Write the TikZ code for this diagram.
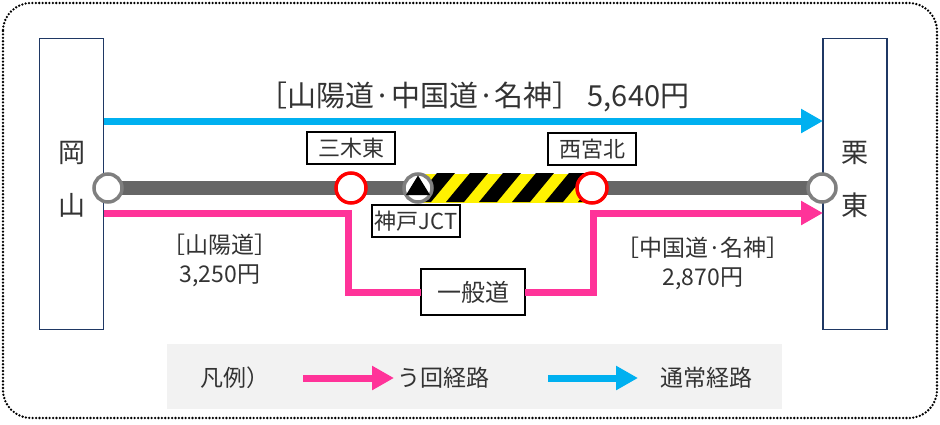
\documentclass[tikz,border=0pt]{standalone}
\usepackage{fontspec}
\setmainfont{Noto Sans CJK JP}
\usetikzlibrary{arrows.meta, positioning}

\definecolor{tsujoblue}{HTML}{00B0F0}
\definecolor{ukaipink}{HTML}{FF3399}
\definecolor{roadgray}{HTML}{666666}
\definecolor{ringgray}{HTML}{7F7F7F}
\definecolor{citynavy}{HTML}{1F3864}
\definecolor{legendgray}{HTML}{F2F2F2}

\begin{document}
\begin{tikzpicture}[x=1pt, y=-1pt,
  every node/.style={text=black!80, inner sep=0pt, outer sep=0pt},
  citybox/.style={draw=citynavy, line width=1.5pt, minimum width=64pt, minimum height=291pt},
  cityname/.style={font=\fontsize{27}{27}\selectfont},
  endring/.style={circle, draw=ringgray, line width=3.5pt, fill=white, minimum size=28pt},
  icring/.style={circle, draw=red, line width=3.5pt, fill=white, minimum size=30pt},
  namebox/.style={draw=black, line width=1.6pt, fill=white, font=\fontsize{22}{22}\selectfont},
  icname/.style={namebox, minimum width=88pt, minimum height=32pt},
  tsujoroute/.style={draw=tsujoblue, line width=7pt, -{Triangle[length=22pt, width=23pt]}},
  ukairoute/.style={draw=ukaipink, line width=7pt},
  ukaitip/.style={-{Triangle[length=22pt, width=23pt]}},
  farelabel/.style={align=center, font=\fontsize{23}{29}\selectfont},
  legendtext/.style={font=\fontsize{23}{23}\selectfont}]
  \useasboundingbox (0,0) rectangle (940,424);
  % dotted outer frame
  \draw[line width=2.6pt, dash pattern=on 0pt off 3.4pt, line cap=round, rounded corners=28pt]
    (3,3) rectangle (937,418);

  \node[citybox] (okayama) at (71.5,184) {};
  \node[citybox] (ritto) at (855,184) {};
  \node[cityname] (oka1) at (71.5,153) {岡};
  \node[cityname] (oka2) at (71.5,205) {山};
  \node[cityname] (rit1) at (855,153) {栗};
  \node[cityname] (rit2) at (855,205) {東};

  % usual route
  \coordinate (tsujoY) at (0,121);
  \draw[tsujoroute] (okayama.east |- tsujoY) -- (ritto.west |- tsujoY);
  \node[font=\fontsize{29}{29}\selectfont] (tsujoFare) at (474,97) {［山陽道·中国道·名神］ 5,640円};

  % expressway and the closed section
  \coordinate (okaP) at (108,188);
  \coordinate (mikiP) at (351,188);
  \coordinate (jctP) at (418,188);
  \coordinate (nishiP) at (592,188);
  \coordinate (ritP) at (822,188);
  \draw[roadgray, line width=14pt] (okaP) -- (ritP);
  \fill[yellow] ([yshift=14.5pt]jctP) rectangle ([yshift=-14.5pt]nishiP);
  \begin{scope}
    \clip ([yshift=14.5pt]jctP) rectangle ([yshift=-14.5pt]nishiP);
    \foreach \s in {380,413,...,600}
      \fill[black] (\s,202) -- ++(18,0) -- ++(24,-29) -- ++(-18,0) -- cycle;
  \end{scope}

  \node[endring] (okaEnd) at (okaP) {};
  \node[endring] (ritEnd) at (ritP) {};
  \node[icring] (miki) at (mikiP) {};
  \node[icring] (nishi) at (nishiP) {};
  \node[endring] (jct) at (jctP) {};
  \fill ([yshift=12.5pt]jct.center) -- ([xshift=-12pt, yshift=-7pt]jct.center)
    -- ([xshift=12pt, yshift=-7pt]jct.center) -- cycle;

  \node[icname, above=9pt of miki] (mikiName) {三木東};
  \node[icname, above=8pt of nishi] (nishiName) {西宮北};
  \node[icname, below=3pt of jct, xshift=-2pt] (jctName) {神戸JCT};

  % detour
  \coordinate (ukaiY) at (0,213);
  \coordinate (ukaiTurnL) at (348,213);
  \coordinate (ukaiTurnR) at (593,213);
  \node[namebox, minimum width=104pt, minimum height=46pt, font=\fontsize{24}{24}\selectfont]
    (ippan) at (473,292) {一般道};
  \draw[ukairoute] (okayama.east |- ukaiY) -- (ukaiTurnL) |- (ippan.west);
  \draw[ukairoute, ukaitip] (ippan.east) -| (ukaiTurnR) -- (ritto.west |- ukaiY);
  \node[farelabel] (sanyoFare) at (220,260) {［山陽道］\\3,250円};
  \node[farelabel] (chugokuFare) at (703,263) {［中国道·名神］\\2,870円};

  % legend
  \node[fill=legendgray, minimum width=615pt, minimum height=65pt] (legend) at (474.5,376.5) {};
  \node[legendtext, anchor=west] (hanrei) at (200,378) {凡例）};
  \node[legendtext, anchor=west] (ukaiKey) at (397,378) {う回経路};
  \node[legendtext, anchor=west] (tsujoKey) at (660,378) {通常経路};
  \coordinate (ukaiKeyStart) at (303,378);
  \coordinate (tsujoKeyStart) at (548,378);
  \coordinate (tsujoKeyEnd) at (638,378);
  \draw[ukairoute, ukaitip] (ukaiKeyStart) -- ([xshift=-3pt]ukaiKey.west);
  \draw[tsujoroute] (tsujoKeyStart) -- (tsujoKeyEnd);
\end{tikzpicture}
\end{document}
